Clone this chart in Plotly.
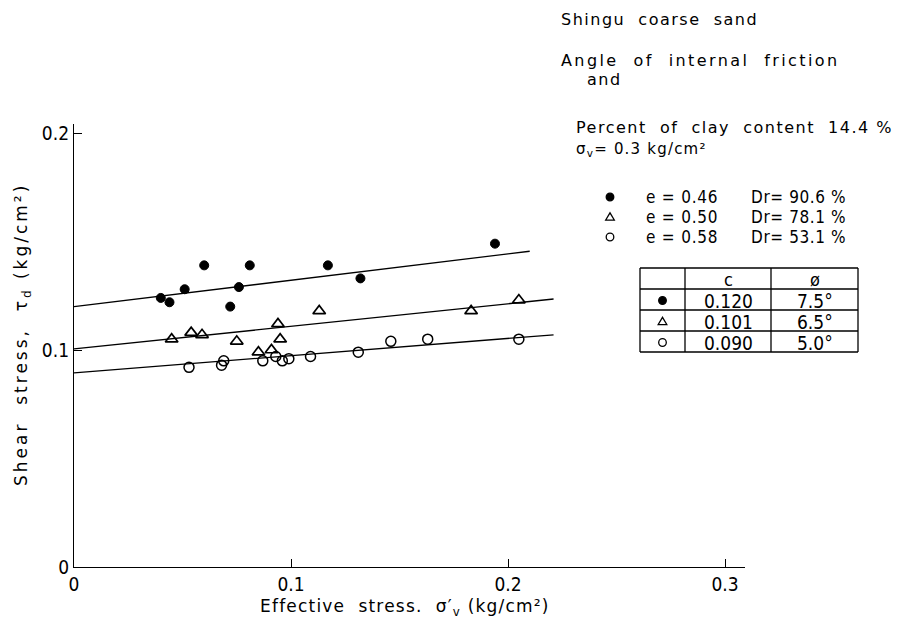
import plotly.graph_objects as go

# ---- data ----
dense_x = [0.040, 0.044, 0.051, 0.060, 0.072, 0.076, 0.081, 0.117, 0.132, 0.194]
dense_y = [0.124, 0.122, 0.128, 0.139, 0.120, 0.129, 0.139, 0.139, 0.133, 0.149]

medium_x = [0.045, 0.054, 0.059, 0.075, 0.085, 0.091, 0.094, 0.095, 0.113, 0.183, 0.205]
medium_y = [0.105, 0.108, 0.107, 0.104, 0.099, 0.100, 0.112, 0.105, 0.118, 0.118, 0.123]

loose_x = [0.053, 0.068, 0.069, 0.087, 0.093, 0.096, 0.099, 0.109, 0.131, 0.146, 0.163, 0.205]
loose_y = [0.092, 0.093, 0.095, 0.095, 0.097, 0.095, 0.096, 0.097, 0.099, 0.104, 0.105, 0.105]

# fitted failure lines (end points)
dense_line_x = [0.0, 0.210]
dense_line_y = [0.120, 0.1455]
medium_line_x = [0.0, 0.221]
medium_line_y = [0.1005, 0.1235]
loose_line_x = [0.0, 0.221]
loose_line_y = [0.0895, 0.1070]

legend_e = ["e = 0.46", "e = 0.50", "e = 0.58"]
legend_dr = ["Dr= 90.6 %", "Dr= 78.1 %", "Dr= 53.1 %"]
table_c = ["0.120", "0.101", "0.090"]
table_phi = ["7.5°", "6.5°", "5.0°"]

x_ticks = [0, 0.1, 0.2, 0.3]
x_ticklabels = ["0", "0.1", "0.2", "0.3"]
y_ticks = [0, 0.1, 0.2]
y_ticklabels = ["0", "0.1", "0.2"]

# ---- layout geometry (screen pixels; page body adds an 8px offset) ----
OFF = 8
W, H = 900, 622
ML, MR, MT, MB = 66, 163, 116, 63
PW = W - ML - MR
PH = H - MT - MB
SCALE = 2170.0  # pixels per kg/cm2


def px(x):
    return (x - OFF - ML) / PW


def py(y):
    return (H - MB - (y - OFF)) / PH


NUMFONT = "Liberation Sans Narrow, DejaVu Sans Condensed, Liberation Sans, sans-serif"
TFONT = "DejaVu Sans, Liberation Sans, sans-serif"


def spaced(s, ls):
    return "<span style='letter-spacing:%.1fpx'>%s</span>" % (ls, s)


fig = go.Figure()

for lx, ly in [(dense_line_x, dense_line_y), (medium_line_x, medium_line_y), (loose_line_x, loose_line_y)]:
    fig.add_trace(go.Scatter(x=lx, y=ly, mode="lines", line=dict(color="black", width=1.3),
                             showlegend=False, hoverinfo="skip"))

fig.add_trace(go.Scatter(x=dense_x, y=dense_y, mode="markers", name="e=0.46",
                         marker=dict(symbol="circle", size=9, color="black",
                                     line=dict(color="black", width=1))))
fig.add_trace(go.Scatter(x=medium_x, y=medium_y, mode="markers", name="e=0.50",
                         marker=dict(symbol="triangle-up-open", size=11, color="black",
                                     line=dict(color="black", width=1.7))))
fig.add_trace(go.Scatter(x=loose_x, y=loose_y, mode="markers", name="e=0.58",
                         marker=dict(symbol="circle-open", size=10, color="black",
                                     line=dict(color="black", width=1.5))))

annotations = []
shapes = []


def text(x, y, s, size=16, anchor="left", font=TFONT, angle=0):
    annotations.append(dict(x=px(x), y=py(y), xref="paper", yref="paper", text=s, showarrow=False,
                            xanchor=anchor, yanchor="middle", textangle=angle, borderpad=0,
                            font=dict(family=font, size=size, color="black")))


def key(kind, xc, yc, r=4.2):
    if kind == "tri":
        path = "M %f %f L %f %f L %f %f Z" % (px(xc - r - 0.5), py(yc + r * 0.8), px(xc + r + 0.5), py(yc + r * 0.8),
                                              px(xc), py(yc - r * 1.1))
        shapes.append(dict(type="path", xref="paper", yref="paper", path=path,
                           line=dict(color="black", width=1.3)))
    else:
        shapes.append(dict(type="circle", xref="paper", yref="paper",
                           x0=px(xc - r), x1=px(xc + r), y0=py(yc + r), y1=py(yc - r),
                           fillcolor="black" if kind == "fill" else "rgba(0,0,0,0)",
                           line=dict(color="black", width=1.3)))


text(560, 20, spaced("Shingu  coarse  sand", 1.5), 16)
text(560, 61, spaced("Angle  of  internal  friction", 2.4), 16)
text(586, 80, spaced("and", 1.5), 16)
text(575, 127, spaced("Percent  of  clay  content  14.4 %", 1.5), 16)
text(575, 149, spaced("σ<sub>v</sub>= 0.3 kg/cm²", 1.2), 15)

# legend block
kinds = ["fill", "tri", "open"]
rows = [197, 217, 237]
for i in range(3):
    key(kinds[i], 610, rows[i], 3.8)
    text(645, rows[i], spaced(legend_e[i], 0.8), 17, font=NUMFONT)
    text(750, rows[i], spaced(legend_dr[i], 0.6), 17, font=NUMFONT)

# table
tx = [640, 685, 771, 858]
ty = [268, 289, 310, 331, 352]
for x in tx:
    shapes.append(dict(type="line", xref="paper", yref="paper", x0=px(x), x1=px(x),
                       y0=py(ty[0]), y1=py(ty[-1]), line=dict(color="black", width=1.3)))
for y in ty:
    shapes.append(dict(type="line", xref="paper", yref="paper", x0=px(tx[0]), x1=px(tx[-1]),
                       y0=py(y), y1=py(y), line=dict(color="black", width=1.3)))

text((tx[1] + tx[2]) / 2, (ty[0] + ty[1]) / 2 + 1, "c", 18, "center", NUMFONT)
text((tx[2] + tx[3]) / 2, (ty[0] + ty[1]) / 2 + 1, "ø", 18, "center", NUMFONT)
for i in range(3):
    yc = (ty[i + 1] + ty[i + 2]) / 2
    key(kinds[i], (tx[0] + tx[1]) / 2, yc + 1, 3.8)
    text((tx[1] + tx[2]) / 2, yc + 1, table_c[i], 19, "center", NUMFONT)
    text((tx[2] + tx[3]) / 2, yc + 1, table_phi[i], 19, "center", NUMFONT)

# axis titles
text(22, 335, spaced("Shear  stress,  τ<sub>d</sub> (kg/cm²)", 3.0), 17, "center", TFONT, -90)
text(405, 607, spaced("Effective  stress.  σ′<sub>v</sub> (kg/cm²)", 1.2), 17, "center", TFONT)

fig.update_layout(
    width=W, height=H,
    margin=dict(l=ML, r=MR, t=MT, b=MB, autoexpand=False),
    paper_bgcolor="white", plot_bgcolor="white",
    showlegend=False,
    annotations=annotations,
    shapes=shapes,
    xaxis=dict(range=[0, PW / SCALE], tickvals=x_ticks, ticktext=x_ticklabels,
               showgrid=False, zeroline=False, showline=True, linecolor="black", linewidth=1.3,
               ticks="inside", ticklen=8, tickcolor="black", tickwidth=1.3,
               tickfont=dict(family=NUMFONT, size=19, color="black")),
    yaxis=dict(range=[0, PH / SCALE], tickvals=y_ticks, ticktext=y_ticklabels,
               showgrid=False, zeroline=False, showline=True, linecolor="black", linewidth=1.3,
               ticks="inside", ticklen=8, tickcolor="black", tickwidth=1.3,
               tickfont=dict(family=NUMFONT, size=19, color="black")),
)

fig.write_html("out.html")
